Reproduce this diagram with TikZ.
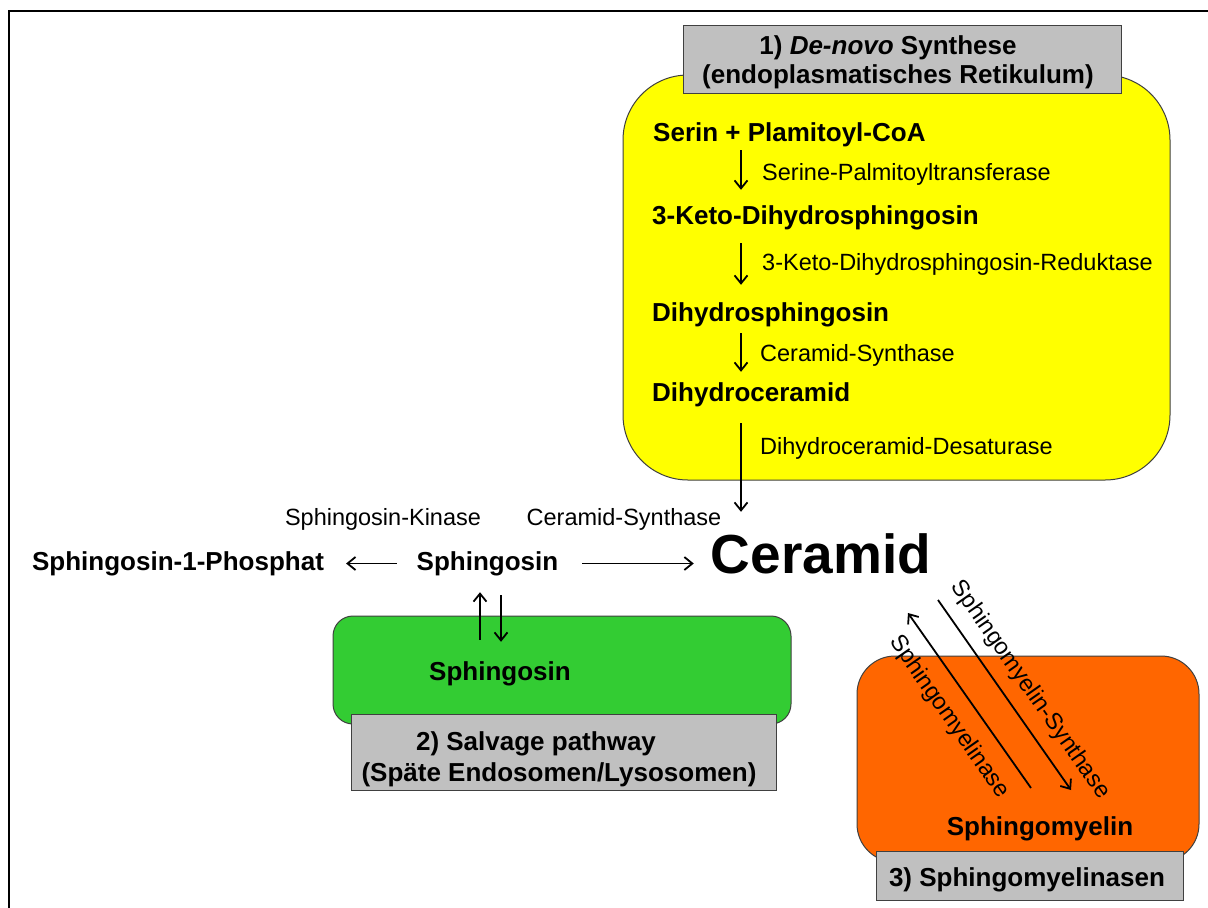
\documentclass[tikz,border=0pt]{standalone}
\usepackage{fontspec}
\setmainfont{Liberation Sans}
\usetikzlibrary{arrows.meta}
\definecolor{ybox}{HTML}{FFFF00}
\definecolor{gbox}{HTML}{33CC33}
\definecolor{obox}{HTML}{FF6600}
\definecolor{boxgrey}{HTML}{C0C0C0}
\begin{document}
\begin{tikzpicture}[x=1pt,y=-1pt,
  bold/.style={font=\fontsize{26}{30}\selectfont\bfseries, inner sep=0pt, text height=19pt, text depth=6pt},
  enz/.style={font=\fontsize{23.5}{28}\selectfont, inner sep=0pt, text height=17pt, text depth=5pt},
  big/.style={font=\fontsize{55}{60}\selectfont\bfseries, inner sep=0pt, text height=40pt, text depth=0pt},
  arr/.style={line width=1.8pt, -{Straight Barb[length=8pt,width=13pt]}},
  greybox/.style={draw=black!75, fill=boxgrey, line width=1pt},
  roundbox/.style={draw=black!75, line width=1pt}]
\useasboundingbox (0,0) rectangle (1208,908);
\fill[white] (0,0) rectangle (1208,908);
\draw[line width=2pt] (9.3,908) -- (9.3,11) -- (1208,11);

% 1) De-novo
\path[roundbox, fill=ybox, rounded corners=65pt] (623,75) rectangle (1170,480);
\path[greybox] (683,25) rectangle (1121,93);
\node[bold, anchor=base] (t1a) at (888,54) {1) \textit{De-novo} Synthese};
\node[bold, anchor=base] (t1b) at (898,83) {(endoplasmatisches Retikulum)};

\node[bold, anchor=base west] (serin) at (653,141) {Serin + Plamitoyl-CoA};
\node[enz, anchor=base west] (e1) at (762,180) {Serine-Palmitoyltransferase};
\node[bold, anchor=base west] (keto) at (652,224) {3-Keto-Dihydrosphingosin};
\node[enz, anchor=base west] (e2) at (762,270) {3-Keto-Dihydrosphingosin-Reduktase};
\node[bold, anchor=base west] (dhs) at (652,321) {Dihydrosphingosin};
\node[enz, anchor=base west] (e3) at (760,361) {Ceramid-Synthase};
\node[bold, anchor=base west] (dhc) at (652,401) {Dihydroceramid};
\node[enz, anchor=base west] (e4) at (760,454) {Dihydroceramid-Desaturase};

% middle row
\node[enz, anchor=base] (kin) at (383,525) {Sphingosin-Kinase};
\node[enz, anchor=base] (cs) at (624,525) {Ceramid-Synthase};
\node[bold, anchor=base] (s1p) at (178,570) {Sphingosin-1-Phosphat};
\node[bold, anchor=base] (sph) at (487.5,570) {Sphingosin};
\node[big, anchor=base] (cer) at (821,573) {Ceramid};

\coordinate (ax) at (741,0);
\draw[arr, shorten <=3pt, shorten >=15pt] (ax |- serin.south) -- (ax |- keto.north);
\draw[arr, shorten <=13pt, shorten >=17pt] (ax |- keto.south) -- (ax |- dhs.north);
\draw[arr, shorten <=6pt, shorten >=10pt] (ax |- dhs.south) -- (ax |- dhc.north);
\draw[arr, shorten <=16pt, shorten >=21pt] (ax |- dhc.south) -- (ax |- cer.north);

\draw[arr, shorten <=20pt, shorten >=22pt] (sph.west) -- (s1p.east);
\draw[arr, shorten <=24pt, shorten >=17pt] (sph.east) -- (sph.east -| cer.west);

% 2) Salvage pathway
\path[roundbox, fill=gbox, rounded corners=20pt] (333,616) rectangle (791,724);
\node[bold, anchor=base] (sph2) at (500,680) {Sphingosin};
\path[greybox] (351,714) rectangle (776,790);
\node[bold, anchor=base] (t2a) at (536,750) {2) Salvage pathway};
\node[bold, anchor=base] (t2b) at (559,781) {(Späte Endosomen/Lysosomen)};

\coordinate (vx1) at (480,0);
\coordinate (vx2) at (501,0);
\draw[arr, shorten <=21pt, shorten >=16pt] (vx1 |- sph2.north) -- (vx1 |- sph.south);
\draw[arr, shorten <=19pt, shorten >=19pt] (vx2 |- sph.south) -- (vx2 |- sph2.north);

% 3) Sphingomyelinasen
\path[roundbox, fill=obox, rounded corners=38pt] (857,656) rectangle (1199,862);
\node[bold, anchor=base] (sm) at (1040,835) {Sphingomyelin};
\path[greybox] (876,851) rectangle (1183,900);
\node[bold, anchor=base] (t3) at (1027,886) {3) Sphingomyelinasen};

\coordinate (d2s) at (938,600);
\coordinate (d2e) at (1071,790);
\coordinate (d1s) at (1031,788);
\coordinate (d1e) at (908,613);
\draw[arr] (d2s) -- (d2e);
\draw[arr] (d1s) -- (d1e);
\node[enz, rotate=-55] (l2) at (1030,690) {Sphingomyelin-Synthase};
\node[enz, rotate=-55] (l1) at (949,717) {Sphingomyelinase};
\end{tikzpicture}
\end{document}
